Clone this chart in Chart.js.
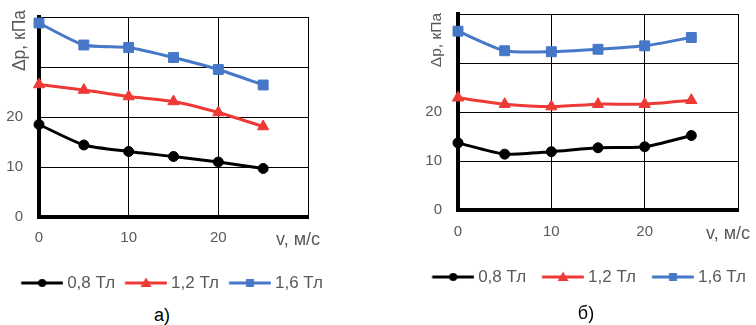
<!DOCTYPE html>
<html>
<head>
<meta charset="utf-8">
<script src="https://cdn.jsdelivr.net/npm/chart.js@4.4.1/dist/chart.umd.min.js"></script>
<style>
    html, body { margin: 0; padding: 0; background: #fff; overflow: hidden; }
    body { width: 756px; height: 325px; position: relative; font-family: 'Liberation Sans', Arial, sans-serif; }
    canvas { position: absolute; top: 0; }
    .caption { position: absolute; font-size: 18px; line-height: 1; color: #000; transform: translate(-50%, -50%); }
</style>
</head>
<body>
<canvas id="chart-a" height="305"></canvas>
<canvas id="chart-b" height="305"></canvas>
<div class="caption" style="left:162px; top:315px">а)</div>
<div class="caption" style="left:586px; top:313px">б)</div>

<script>
// speeds, m/s
const speeds = [0, 5, 10, 15, 20, 25];
const seriesLabels = ['0,8 Тл', '1,2 Тл', '1,6 Тл'];

// chart а) pressure drop, kPa
const dpA_08 = [18.5, 14.4, 13.1, 12.1, 11.0, 9.7];
const dpA_12 = [26.5, 25.4, 24.1, 23.1, 20.9, 18.1];
const dpA_16 = [38.8, 34.4, 33.9, 31.9, 29.5, 26.4];

// chart б) pressure drop, kPa
const dpB_08 = [13.7, 11.4, 11.9, 12.7, 12.9, 15.2];
const dpB_12 = [22.9, 21.6, 21.1, 21.6, 21.6, 22.4];
const dpB_16 = [36.5, 32.5, 32.3, 32.8, 33.5, 35.2];

const yLabelled = [0, 10, 20];   // upper ticks carry no label, the axis title sits there
const xUnit = 'v, м/с';
const yTitle = 'Δp, кПа';

const colors = ['#000000', '#ee3a36', '#4677c8'];
const markers = ['circle', 'triangle', 'rect'];
const markerRadius = [5, 6.5, 7];
const textGrey = '#595959';
const FONT = 'Liberation Sans';

// legend icon = line with marker in the middle (Excel style).
// chart.js centres the image on a box of width BOX_W, so the line is drawn off-centre
const LINE_OFF = 4, LINE_LEN = 42, TEXT_GAP = 4, LEGEND_FONT = 17;
const BOX_W = LINE_OFF + LINE_LEN + TEXT_GAP - LEGEND_FONT / 2;

function makeIcon(color, style) {
    const half = BOX_W / 2;
    const x0 = LINE_OFF - half, x1 = x0 + LINE_LEN;
    const w = Math.ceil(2 * Math.max(Math.abs(x0), Math.abs(x1)));
    const c = document.createElement('canvas');
    c.width = w; c.height = 14;
    const ctx = c.getContext('2d');
    const ox = w / 2;
    const mx = ox + (x0 + x1) / 2;
    ctx.strokeStyle = color;
    ctx.fillStyle = color;
    ctx.lineWidth = 3;
    ctx.beginPath(); ctx.moveTo(ox + x0, 7); ctx.lineTo(ox + x1, 7); ctx.stroke();
    ctx.beginPath();
    if (style === 'circle') ctx.arc(mx, 7, 4, 0, Math.PI * 2);
    else if (style === 'triangle') { ctx.moveTo(mx, 1.5); ctx.lineTo(mx + 5.5, 11); ctx.lineTo(mx - 5.5, 11); ctx.closePath(); }
    else ctx.rect(mx - 4, 3, 8, 8);
    ctx.fill();
    return c;
}
const icons = colors.map((c, i) => makeIcon(c, markers[i]));

// y title sits at the top of the axis, a little above the plot frame
const yTitlePlugin = {
    id: 'yTitleTop',
    afterDraw(chart, args, opts) {
        const ctx = chart.ctx;
        ctx.save();
        ctx.translate(opts.x, opts.y);
        ctx.rotate(-Math.PI / 2);
        ctx.font = opts.size + 'px ' + FONT;
        ctx.fillStyle = textGrey;
        ctx.textAlign = 'right';
        ctx.textBaseline = 'middle';
        ctx.fillText(opts.text, 0, 0);
        ctx.restore();
    }
};

function legendRowWidth(pad) {
    const m = document.createElement('canvas').getContext('2d');
    m.font = LEGEND_FONT + 'px ' + FONT;
    return seriesLabels.reduce((s, t) => s + BOX_W + LEGEND_FONT / 2 + m.measureText(t).width + pad, 0);
}

function buildChart(canvasId, series, g) {
    // g = wanted pixel geometry in page coords; convert it to chart.js paddings
    const tickFont = 15, yTickGap = 16;
    const canvasLeft = g.left - 80;   // y scale box starts left of the page edge so labels never clip
    const yWidth = g.left - canvasLeft;
    // legend is centred over the canvas, so pick the canvas width that puts the first line at legendX
    const rowW = legendRowWidth(g.legPad);
    const width = Math.round(2 * (g.legendX - canvasLeft - LINE_OFF) - g.legPad + rowW);
    const rightW = canvasLeft + width - g.right;
    const legendTop = g.legendY - g.legPad - LEGEND_FONT / 2;
    const xHeight = legendTop - g.bottom;
    const legendH = LEGEND_FONT + g.legPad + 10;
    const padBottom = g.height - legendTop - legendH;
    const xTickPad = g.xLabelY - g.bottom - tickFont * 1.2 / 2;

    const canvas = document.getElementById(canvasId);
    canvas.width = width;
    canvas.height = g.height;
    canvas.style.left = canvasLeft + 'px';

    return new Chart(canvas, {
        type: 'line',
        data: {
            datasets: series.map((vals, i) => ({
                label: seriesLabels[i],
                data: speeds.map((v, k) => ({ x: v, y: vals[k] })),
                borderColor: colors[i],
                backgroundColor: colors[i],
                borderWidth: 3,
                pointStyle: markers[i],
                pointRadius: markerRadius[i],
                pointBorderWidth: 1,
                tension: 0.2,
                clip: false
            }))
        },
        plugins: [yTitlePlugin],
        options: {
            responsive: false,
            animation: false,
            devicePixelRatio: 1,
            layout: { padding: { left: 0, top: g.top, right: 0, bottom: padBottom } },
            plugins: {
                tooltip: { enabled: false },
                yTitleTop: { text: yTitle, x: g.titleX - canvasLeft, y: g.titleTop, size: g.titleSize },
                legend: {
                    position: 'bottom',
                    align: 'center',
                    labels: {
                        usePointStyle: true,
                        pointStyleWidth: BOX_W,
                        padding: g.legPad,
                        color: textGrey,
                        font: { family: FONT, size: LEGEND_FONT },
                        generateLabels(chart) {
                            const items = Chart.defaults.plugins.legend.labels.generateLabels(chart);
                            items.forEach(it => { it.pointStyle = icons[it.datasetIndex]; });
                            return items;
                        }
                    }
                }
            },
            scales: {
                x: {
                    type: 'linear',
                    min: 0, max: 30,
                    afterFit: s => { s.height = xHeight; },
                    grid: { color: '#000', lineWidth: 1, drawTicks: false },
                    border: { color: '#000', width: 4 },
                    ticks: {
                        stepSize: 10,
                        padding: xTickPad,
                        color: textGrey,
                        maxRotation: 0,
                        autoSkip: false,
                        font: c => ({ family: FONT, size: c.tick && c.tick.value === 30 ? 18 : tickFont }),
                        // trailing spaces pull the unit label a bit left of the last gridline
                        callback: v => v === 30 ? xUnit + '    ' : v
                    }
                },
                y: {
                    min: 0, max: 40,
                    afterFit: s => { s.width = yWidth; },
                    // invisible tick marks give the label gap without adding top padding
                    grid: { color: '#000', lineWidth: 1, drawTicks: true, tickLength: yTickGap, tickColor: 'rgba(0,0,0,0)' },
                    border: { color: '#000', width: 4 },
                    ticks: {
                        stepSize: 10,
                        padding: 0,
                        color: textGrey,
                        font: { family: FONT, size: tickFont },
                        callback: v => yLabelled.includes(v) ? v : ''
                    }
                },
                // empty right axis only reserves room for the unit label / legend
                yR: {
                    position: 'right',
                    display: true,
                    grid: { display: false },
                    border: { display: false },
                    ticks: { display: false },
                    afterFit: s => { s.width = rightW; }
                }
            }
        }
    });
}

buildChart('chart-a', [dpA_08, dpA_12, dpA_16], {
    height: 305, left: 39, right: 308, top: 17, bottom: 217,
    xLabelY: 238, legendY: 283, legendX: 21, legPad: 6,
    titleX: 20, titleTop: 10, titleSize: 17.5
});
buildChart('chart-b', [dpB_08, dpB_12, dpB_16], {
    height: 305, left: 458, right: 738, top: 14, bottom: 210,
    xLabelY: 232, legendY: 277, legendX: 432, legPad: 12,
    titleX: 437, titleTop: 13, titleSize: 15.5
});
</script>
</body>
</html>
